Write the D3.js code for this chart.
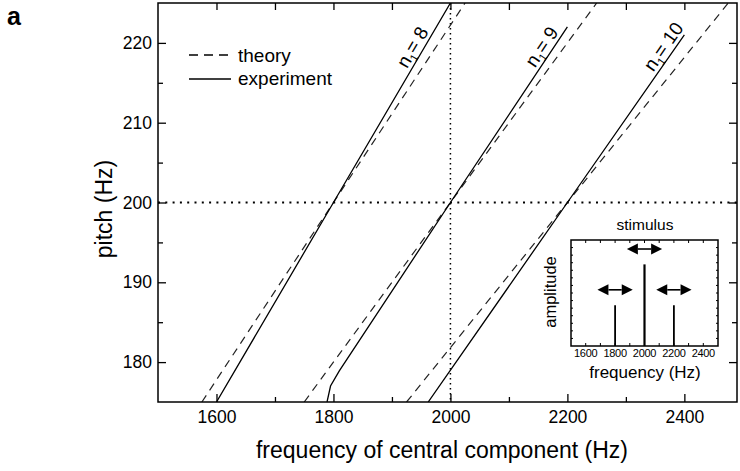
<!DOCTYPE html>
<html>
<head>
<meta charset="utf-8">
<script src="https://cdn.jsdelivr.net/npm/d3@7"></script>
<style>
  body { margin: 0; background: #fff; }
  svg { font-family: "Liberation Sans", Arial, sans-serif; }
</style>
</head>
<body>
<div id="fig"></div>
<script>
//  data
var N1 = [8, 9, 10];
// theory (dashed): [freq of central component, pitch]
var THEORY_8 = [[1575, 175], [1800, 200], [2025, 225]];
var THEORY_9 = [[1750, 175], [2000, 200], [2250, 225]];
var THEORY_10 = [[1925, 175], [2200, 200], [2475, 225]];
// experiment (solid)
var EXPERIMENT_8 = [[1600, 175], [1800, 200], [2000, 225]];
var EXPERIMENT_9 = [[1789, 175], [1795, 177], [1810, 178.9], [2000, 200], [2200, 222]];
var EXPERIMENT_10 = [[1962, 175], [2200, 200], [2400, 221]];

var X_TICKS = [1600, 1800, 2000, 2200, 2400];
var X_MINOR = [1700, 1900, 2100, 2300];
var Y_TICKS = [180, 190, 200, 210, 220];
var Y_MINOR = [185, 195, 205, 215];
var REF_FREQ = 2000;
var REF_PITCH = 200;

// inset: stimulus
var STIM_FREQ = [1800, 2000, 2200];
var STIM_AMP = [0.385, 0.77, 0.385];
var STIM_ARROW_AMP = [0.53, 0.915, 0.53];
var STIM_SHIFT = 120;
var INSET_TICKS = [1600, 1800, 2000, 2200, 2400];

//  main
function main() {
  draw_fig();
}

function draw_fig() {
  const w = 740
  const h = 471
  const margin = ({top: 3, right: 3, bottom: 69, left: 158})

  const svg = d3.select("#fig").append("svg").attr("width", w).attr("height", h)
  svg.append("rect").attr("width", w).attr("height", h).attr("fill", "#fff")

  const x = d3.scaleLinear().domain([1500, 2490]).range([margin.left, w - margin.right])
  const y = d3.scaleLinear().domain([175, 225]).range([h - margin.bottom, margin.top])

  svg.append("clipPath").attr("id", "clip")
    .append("rect")
    .attr("x", margin.left).attr("y", margin.top)
    .attr("width", w - margin.right - margin.left)
    .attr("height", h - margin.bottom - margin.top)

  const plot = svg.append("g").attr("clip-path", "url(#clip)")

  // dotted reference lines
  plot.append("line")
    .attr("x1", x(REF_FREQ)).attr("x2", x(REF_FREQ))
    .attr("y1", margin.top).attr("y2", h - margin.bottom)
    .attr("stroke", "#000").attr("stroke-width", 1.5).attr("stroke-dasharray", "1.5,3.5")
  plot.append("line")
    .attr("x1", margin.left).attr("x2", w - margin.right)
    .attr("y1", y(REF_PITCH)).attr("y2", y(REF_PITCH))
    .attr("stroke", "#000").attr("stroke-width", 2).attr("stroke-dasharray", "2,5.3")

  const line = d3.line().x(d => x(d[0])).y(d => y(d[1]))
  const theory = [THEORY_8, THEORY_9, THEORY_10]
  const experiment = [EXPERIMENT_8, EXPERIMENT_9, EXPERIMENT_10]

  plot.selectAll("path.theory").data(theory).enter()
    .append("path")
    .attr("class", "theory")
    .attr("d", line)
    .attr("fill", "none")
    .attr("stroke", "#222")
    .attr("stroke-width", 1.2)
    .attr("stroke-dasharray", "8,6")

  plot.selectAll("path.experiment").data(experiment).enter()
    .append("path")
    .attr("class", "experiment")
    .attr("d", line)
    .attr("fill", "none")
    .attr("stroke", "#000")
    .attr("stroke-width", 1.3)

  // n1 labels along the experiment lines
  const labelPitch = 218.8
  N1.forEach((n, i) => {
    const pts = experiment[i]
    const a = pts[pts.length - 2], b = pts[pts.length - 1]
    const f = a[0] + (labelPitch - a[1]) / (b[1] - a[1]) * (b[0] - a[0])
    const ang = Math.atan2(y(b[1]) - y(a[1]), x(b[0]) - x(a[0])) * 180 / Math.PI
    const t = svg.append("text")
      .attr("transform", `translate(${x(f)},${y(labelPitch)}) rotate(${ang})`)
      .attr("text-anchor", "middle")
      .attr("dy", -4)
      .style("font-size", "19px")
    t.append("tspan").text("n")
    t.append("tspan").attr("dy", 4).style("font-size", "11px").text("1")
    t.append("tspan").attr("dy", -4).text("= " + n)
  })

  // axes (ticks inside)
  const clean = g => {
    g.select(".domain").remove()
    g.attr("font-family", null).attr("font-size", null)
  }
  const fmt = d3.format("d")
  svg.append("g")
    .attr("transform", `translate(0,${h - margin.bottom})`)
    .call(d3.axisBottom(x).tickValues(X_TICKS).tickFormat(fmt).tickSizeInner(-8).tickSizeOuter(0).tickPadding(8.6))
    .call(clean)
    .call(g => g.selectAll("text").style("font-size", "17.5px").attr("fill", "#000"))
  svg.append("g")
    .attr("transform", `translate(0,${h - margin.bottom})`)
    .call(d3.axisBottom(x).tickValues(X_MINOR).tickFormat("").tickSizeInner(-5).tickSizeOuter(0))
    .call(clean)
  svg.append("g")
    .attr("transform", `translate(0,${margin.top})`)
    .call(d3.axisTop(x).tickValues(X_TICKS.concat(X_MINOR)).tickFormat("").tickSizeInner(-7).tickSizeOuter(0))
    .call(clean)

  svg.append("g")
    .attr("transform", `translate(${margin.left},0)`)
    .call(d3.axisLeft(y).tickValues(Y_TICKS).tickFormat(fmt).tickSizeInner(-8).tickSizeOuter(0).tickPadding(6))
    .call(clean)
    .call(g => g.selectAll("text").style("font-size", "17.5px").attr("fill", "#000"))
  svg.append("g")
    .attr("transform", `translate(${margin.left},0)`)
    .call(d3.axisLeft(y).tickValues(Y_MINOR).tickFormat("").tickSizeInner(-5).tickSizeOuter(0))
    .call(clean)
  svg.append("g")
    .attr("transform", `translate(${w - margin.right},0)`)
    .call(d3.axisRight(y).tickValues(Y_TICKS).tickFormat("").tickSizeInner(-8).tickSizeOuter(0))
    .call(clean)
  svg.append("g")
    .attr("transform", `translate(${w - margin.right},0)`)
    .call(d3.axisRight(y).tickValues(Y_MINOR).tickFormat("").tickSizeInner(-5).tickSizeOuter(0))
    .call(clean)
  svg.selectAll(".tick line").attr("stroke-width", 1.3)

  svg.append("rect")
    .attr("x", margin.left).attr("y", margin.top)
    .attr("width", w - margin.right - margin.left)
    .attr("height", h - margin.bottom - margin.top)
    .attr("fill", "none").attr("stroke", "#000").attr("stroke-width", 1.5)

  // axis titles
  svg.append("text")
    .attr("x", 442).attr("y", 458)
    .attr("text-anchor", "middle")
    .style("font-size", "23px")
    .text("frequency of central component (Hz)")
  svg.append("text")
    .attr("transform", "translate(112,209) rotate(-90)")
    .attr("text-anchor", "middle")
    .style("font-size", "23px")
    .text("pitch (Hz)")
  svg.append("text")
    .attr("x", 7).attr("y", 25)
    .style("font-size", "25px").style("font-weight", "bold")
    .text("a")

  // legend
  const legend = svg.append("g")
  legend.append("line").attr("x1", 189).attr("x2", 231).attr("y1", 55).attr("y2", 55)
    .attr("stroke", "#000").attr("stroke-width", 1.6).attr("stroke-dasharray", "9,6")
  legend.append("line").attr("x1", 189).attr("x2", 231).attr("y1", 79).attr("y2", 79)
    .attr("stroke", "#000").attr("stroke-width", 1.3)
  legend.append("text").attr("x", 238).attr("y", 62).style("font-size", "19px").text("theory")
  legend.append("text").attr("x", 238).attr("y", 85).style("font-size", "19px").text("experiment")

  draw_inset(svg)
}

//  inset with the stimulus spectrum
function draw_inset(svg) {
  const box = ({x0: 571, x1: 718, y0: 240, y1: 346})
  const ix = d3.scaleLinear().domain([1500, 2500]).range([box.x0, box.x1])
  const iy = d3.scaleLinear().domain([0, 1]).range([box.y1, box.y0])
  const g = svg.append("g")

  g.append("rect")
    .attr("x", box.x0).attr("y", box.y0)
    .attr("width", box.x1 - box.x0).attr("height", box.y1 - box.y0)
    .attr("fill", "#fff").attr("stroke", "#000").attr("stroke-width", 1.5)

  // small inward ticks
  const xt = d3.range(1600, 2500, 100)
  g.selectAll("line.xb").data(xt).enter().append("line")
    .attr("x1", d => ix(d)).attr("x2", d => ix(d))
    .attr("y1", box.y1).attr("y2", box.y1 - 3)
    .attr("stroke", "#000")
  g.selectAll("line.xt").data(xt).enter().append("line")
    .attr("x1", d => ix(d)).attr("x2", d => ix(d))
    .attr("y1", box.y0).attr("y2", box.y0 + 3)
    .attr("stroke", "#000")
  const yt = d3.range(1, 14).map(i => i / 14)
  g.selectAll("line.yl").data(yt).enter().append("line")
    .attr("x1", box.x0).attr("x2", box.x0 + 2)
    .attr("y1", d => iy(d)).attr("y2", d => iy(d))
    .attr("stroke", "#000")
  g.selectAll("line.yr").data(yt).enter().append("line")
    .attr("x1", box.x1).attr("x2", box.x1 - 2)
    .attr("y1", d => iy(d)).attr("y2", d => iy(d))
    .attr("stroke", "#000")

  g.selectAll("text.tl").data(INSET_TICKS).enter().append("text")
    .attr("x", d => ix(d)).attr("y", 357)
    .attr("text-anchor", "middle")
    .style("font-size", "11px")
    .style("letter-spacing", "-0.3px")
    .text(d => d)

  // stimulus components
  g.selectAll("line.comp").data(STIM_FREQ).enter().append("line")
    .attr("x1", d => ix(d)).attr("x2", d => ix(d))
    .attr("y1", iy(0)).attr("y2", (d, i) => iy(STIM_AMP[i]))
    .attr("stroke", "#000").attr("stroke-width", (d, i) => i == 1 ? 2.2 : 1.8)

  // double arrows
  const head = 11, hw = 5.5
  STIM_FREQ.forEach((f, i) => {
    const xa = ix(f - STIM_SHIFT), xb = ix(f + STIM_SHIFT), ya = iy(STIM_ARROW_AMP[i])
    g.append("line").attr("x1", xa + head).attr("x2", xb - head).attr("y1", ya).attr("y2", ya)
      .attr("stroke", "#000").attr("stroke-width", 1.6)
    g.append("path").attr("d", `M${xa},${ya}L${xa + head},${ya - hw}L${xa + head},${ya + hw}Z`)
    g.append("path").attr("d", `M${xb},${ya}L${xb - head},${ya - hw}L${xb - head},${ya + hw}Z`)
  })

  g.append("text").attr("x", 645).attr("y", 230).attr("text-anchor", "middle")
    .style("font-size", "15.5px").text("stimulus")
  g.append("text").attr("x", 645).attr("y", 378).attr("text-anchor", "middle")
    .style("font-size", "17px").text("frequency (Hz)")
  g.append("text").attr("transform", "translate(556,292) rotate(-90)").attr("text-anchor", "middle")
    .style("font-size", "16.5px").text("amplitude")
}

main();
</script>
</body>
</html>
